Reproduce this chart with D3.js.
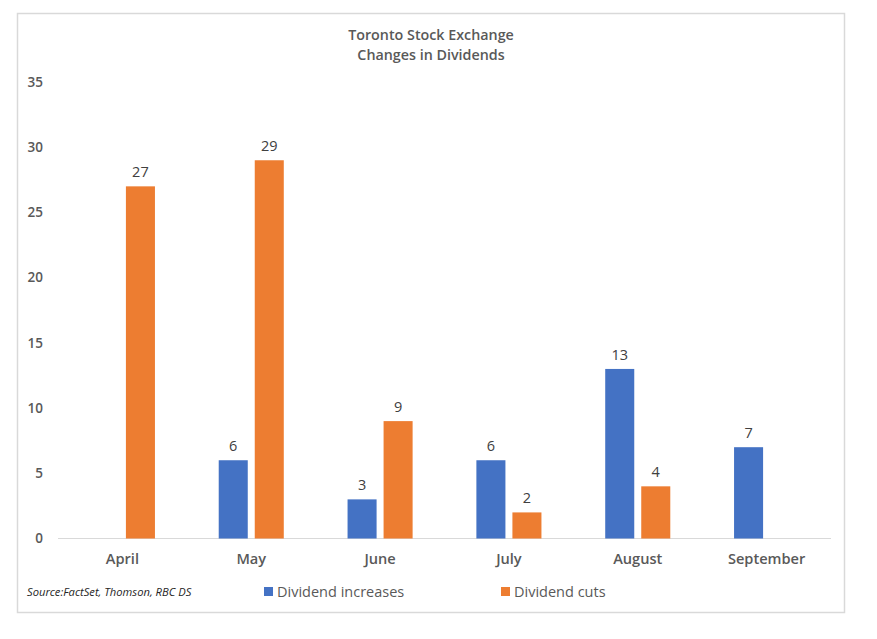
<!DOCTYPE html>
<html>
<head>
<meta charset="utf-8">
<script src="https://cdn.jsdelivr.net/npm/d3@7"></script>
<style>
  html, body { margin: 0; padding: 0; background: #fff; }
  svg { display: block; }
</style>
</head>
<body>
<svg id="chart" width="877" height="639"></svg>
<script>
// chart data
const months = ["April", "May", "June", "July", "August", "September"];
const seriesNames = ["Dividend increases", "Dividend cuts"];
const increases = [null, 6, 3, 6, 13, 7];
const cuts = [27, 29, 9, 2, 4, null];
const yTicks = [0, 5, 10, 15, 20, 25, 30, 35];
const titleLines = ["Toronto Stock Exchange", "Changes in Dividends"];
const sourceNote = "Source:FactSet, Thomson, RBC DS";

const colors = d3.scaleOrdinal().domain(seriesNames).range(["#4472C4", "#ED7D31"]);

const svg = d3.select("#chart");
const font = "'Open Sans', sans-serif";

//outer frame
svg.append("rect")
    .attr("x", 17.5).attr("y", 13.5)
    .attr("width", 827).attr("height", 599)
    .attr("fill", "#fff")
    .attr("stroke", "#d9d9d9")
    .attr("stroke-width", 1.5);

const plot = { left: 58, right: 831, top: 82, bottom: 538.5 };

const x0 = d3.scaleBand()
    .domain(months)
    .range([plot.left, plot.right])
    .paddingInner(0.495)
    .paddingOuter(0.2475);

const x1 = d3.scaleBand()
    .domain(seriesNames)
    .range([0, x0.bandwidth()])
    .paddingInner(0.194);

const y = d3.scaleLinear()
    .domain([0, 35])
    .range([plot.bottom, plot.top]);

//title
svg.append("g").selectAll("text").data(titleLines)
    .enter().append("text")
    .attr("x", 431)
    .attr("y", (d, i) => 40 + i * 20)
    .attr("text-anchor", "middle")
    .attr("font-family", font)
    .attr("font-weight", 600)
    .attr("font-size", 14.3)
    .attr("fill", "#595959")
    .text(d => d);

//y axis labels, no line
const yAxis = d3.axisLeft(y).tickValues(yTicks).tickSize(0).tickPadding(0);
const yg = svg.append("g")
    .attr("transform", `translate(43,0)`)
    .call(yAxis);
yg.select(".domain").remove();
yg.selectAll("text")
    .attr("font-family", font)
    .attr("font-weight", 600)
    .attr("font-size", 13.5)
    .attr("fill", "#595959");

//baseline
svg.append("line")
    .attr("x1", plot.left).attr("x2", plot.right)
    .attr("y1", y(0)).attr("y2", y(0))
    .attr("stroke", "#d9d9d9")
    .attr("stroke-width", 1);

//x axis labels
const xAxis = d3.axisBottom(x0).tickSize(0).tickPadding(0);
const xg = svg.append("g")
    .attr("transform", `translate(0,${y(0) + 15})`)
    .call(xAxis);
xg.select(".domain").remove();
xg.selectAll("text")
    .attr("font-family", font)
    .attr("font-weight", 600)
    .attr("font-size", 14.6)
    .attr("fill", "#595959");

//bars
const rows = months.map((m, i) => ({
    month: m,
    values: [
        { key: seriesNames[0], value: increases[i] },
        { key: seriesNames[1], value: cuts[i] }
    ].filter(d => d.value !== null)
}));

const groups = svg.append("g").selectAll("g").data(rows)
    .enter().append("g")
    .attr("transform", d => `translate(${x0(d.month)},0)`);

groups.selectAll("rect").data(d => d.values)
    .enter().append("rect")
    .attr("x", d => x1(d.key))
    .attr("y", d => y(d.value))
    .attr("width", x1.bandwidth())
    .attr("height", d => y(0) - y(d.value))
    .attr("fill", d => colors(d.key));

//value labels
groups.selectAll("text").data(d => d.values)
    .enter().append("text")
    .attr("x", d => x1(d.key) + x1.bandwidth() / 2)
    .attr("y", d => y(d.value) - 9)
    .attr("text-anchor", "middle")
    .attr("font-family", font)
    .attr("font-size", 14.5)
    .attr("fill", "#404040")
    .text(d => d.value);

//source note
svg.append("text")
    .attr("x", 27)
    .attr("y", 596)
    .attr("font-family", font)
    .attr("font-style", "italic")
    .attr("font-size", 11.2)
    .attr("fill", "#262626")
    .text(sourceNote);

//legend
const legendX = [264, 501];
const legend = svg.append("g").selectAll("g").data(seriesNames)
    .enter().append("g")
    .attr("transform", (d, i) => `translate(${legendX[i]},587)`);
legend.append("rect")
    .attr("width", 9).attr("height", 9)
    .attr("fill", d => colors(d));
legend.append("text")
    .attr("x", 13)
    .attr("y", 10)
    .attr("font-family", font)
    .attr("font-size", 14.5)
    .attr("fill", "#595959")
    .text(d => d);
</script>
</body>
</html>
